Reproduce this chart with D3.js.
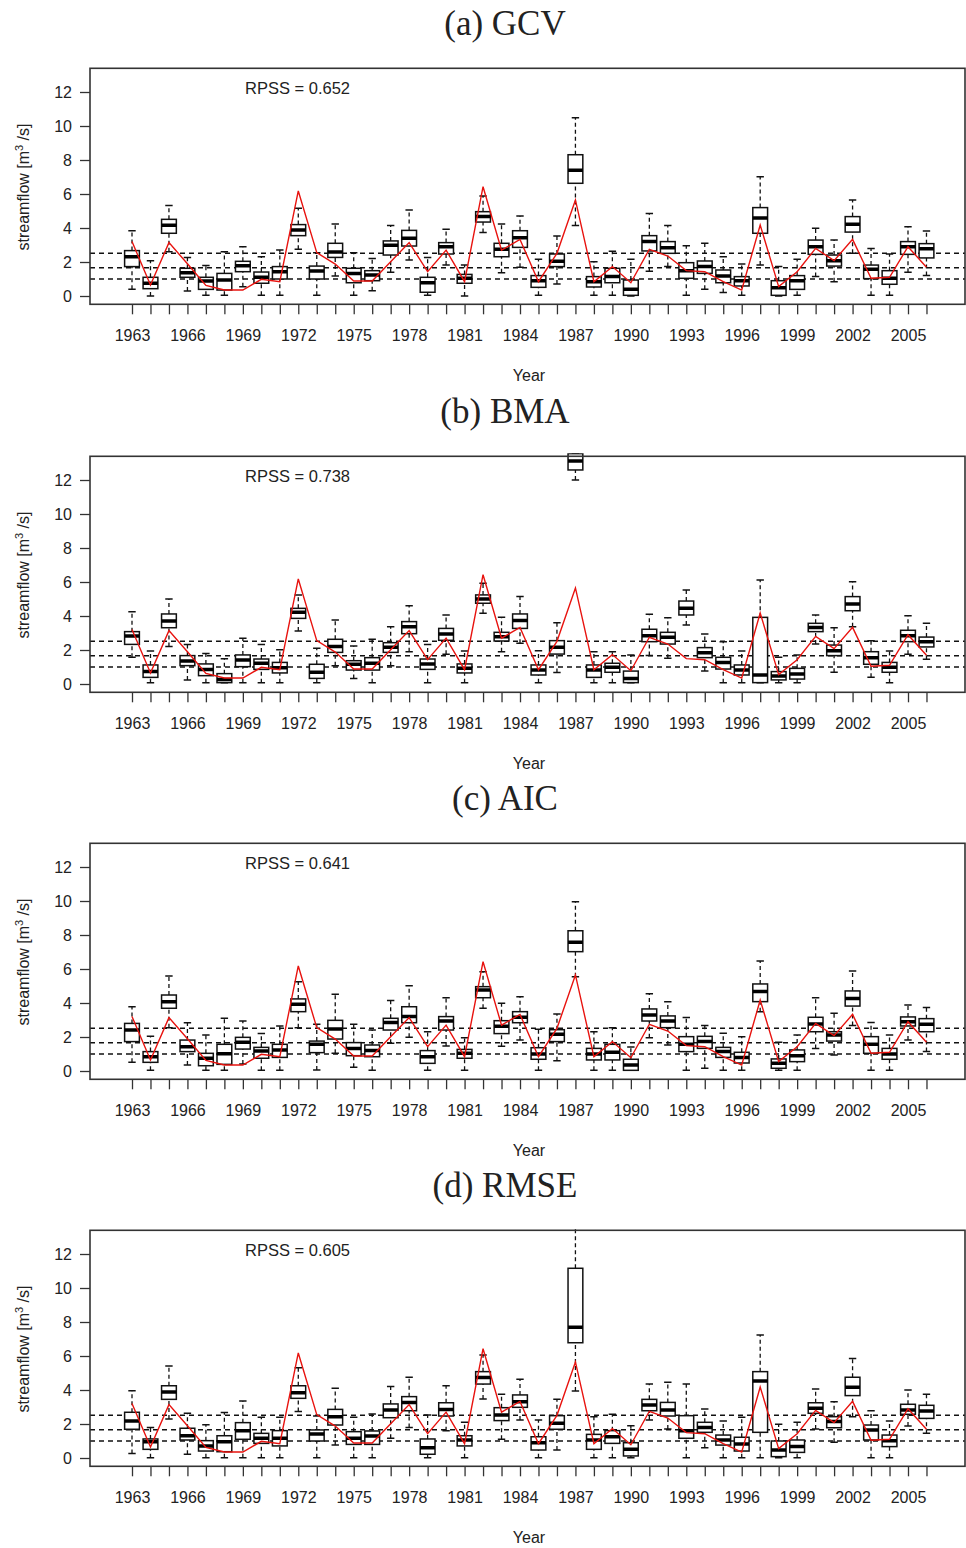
<!DOCTYPE html>
<html>
<head>
<meta charset="utf-8">
<script src="https://cdn.jsdelivr.net/npm/d3@7"></script>
<style>
  body { margin: 0; background: #fff; }
  svg { display: block; }
</style>
</head>
<body>
<div id="chart"></div>
<script>
// years on the x axis, one box per year
const years = [1963,1964,1965,1966,1967,1968,1969,1970,1971,1972,1973,1974,1975,1976,1977,1978,1979,1980,1981,1982,1983,1984,
  1985,1986,1987,1988,1989,1990,1991,1992,1993,1994,1995,1996,1997,1998,1999,2000,2001,2002,2003,2004,2005,2006];
const yearLabels = [1963,1966,1969,1972,1975,1978,1981,1984,1987,1990,1993,1996,1999,2002,2005];
const yTicks = [0,2,4,6,8,10,12];

// observed streamflow (red line), same in every panel
const observed = [3.2,0.65,3.14,1.9,0.62,0.35,0.35,0.98,0.84,6.18,2.55,1.88,0.88,0.88,2.02,3.14,1.43,2.7,0.84,6.43,2.7,3.33,
  0.84,2.51,5.65,0.84,1.73,0.78,2.75,2.35,1.49,1.43,0.84,0.35,4.18,0.55,1.43,2.8,2.08,3.33,1.04,1.1,2.9,1.69];

// tercile lines
const terciles = [1.0, 1.66, 2.51];

// boxes: [lower whisker, q1, median, q3, upper whisker]
const gcvBoxes = [
  [0.39,1.73,2.31,2.67,3.84],[0,0.43,0.75,1.10,2.08],[2.6,3.69,4.16,4.51,5.33],[0.29,1.10,1.37,1.63,2.27],
  [0.04,0.39,0.88,1.10,1.80],[0.04,0.35,0.94,1.33,2.61],[0.55,1.43,1.78,2.04,2.90],[0.04,0.75,1.10,1.41,2.31],
  [0.04,1.00,1.43,1.73,2.71],[2.75,3.55,3.88,4.20,5.16],[0.04,1.00,1.47,1.76,2.55],[1.18,2.27,2.59,3.10,4.24],
  [0.04,0.78,1.33,1.63,2.55],[0.31,0.90,1.24,1.49,2.20],[1.39,2.41,2.98,3.24,4.14],[2.12,2.94,3.39,3.86,5.06],
  [0.04,0.22,0.78,1.10,2.27],[1.82,2.47,2.90,3.14,3.92],[0,0.75,1.04,1.27,1.82],[3.73,4.35,4.67,4.96,5.88],
  [1.37,2.31,2.75,3.10,4.24],[1.69,2.86,3.43,3.84,4.71],[0.04,0.51,0.90,1.20,2.16],[0.71,1.73,2.04,2.47,3.53],
  [4.14,6.63,7.39,8.31,10.49],[0.04,0.53,0.84,1.14,2.02],[0.04,0.78,1.14,1.63,2.63],[0,0.04,0.39,0.94,2.16],
  [1.45,2.65,3.20,3.55,4.86],[1.73,2.51,2.84,3.20,4.14],[0.04,1.04,1.49,1.96,2.96],[0.39,1.33,1.73,2.06,3.10],
  [0.20,0.78,1.18,1.53,2.31],[0.04,0.59,0.90,1.14,1.88],[1.82,3.69,4.59,5.20,7.02],[0,0.04,0.49,0.90,1.73],
  [0.04,0.39,0.90,1.20,2.16],[1.14,2.45,2.90,3.29,3.98],[0.84,1.76,2.08,2.41,3.29],[2.51,3.76,4.22,4.67,5.65],
  [0.04,1.02,1.57,1.82,2.80],[0.04,0.69,1.04,1.49,2.47],[1.39,2.45,2.90,3.20,4.08],[1.20,2.24,2.78,3.08,3.82]
];
const bmaBoxes = [
  [1.57,2.33,2.82,3.08,4.25],[0.08,0.39,0.73,1.12,1.94],[2.20,3.31,3.71,4.12,5.0],[0.24,1.08,1.35,1.67,2.33],
  [0.08,0.49,0.86,1.18,1.80],[0.08,0.08,0.27,0.61,1.49],[0.08,1.02,1.41,1.71,2.69],[0.08,0.86,1.22,1.47,2.33],
  [0.08,0.65,0.96,1.27,2.02],[3.12,3.86,4.22,4.45,5.24],[0.08,0.33,0.69,1.16,2.10],[1.08,1.86,2.20,2.63,3.76],
  [0.33,0.82,1.16,1.37,2.24],[0.08,0.82,1.22,1.55,2.63],[1.08,1.86,2.16,2.43,3.37],[1.90,2.96,3.37,3.67,4.61],
  [0.08,0.86,1.18,1.47,2.33],[1.75,2.57,2.94,3.27,4.06],[0.08,0.65,0.92,1.18,1.94],[4.16,4.75,5.0,5.24,5.92],
  [1.90,2.53,2.78,3.04,3.92],[2.39,3.27,3.73,4.12,5.14],[0.08,0.53,0.82,1.12,1.96],[0.67,1.76,2.16,2.55,3.61],
  [12.0,12.59,13.12,13.55,13.55],[0.08,0.39,0.82,1.12,1.90],[0.08,0.69,0.98,1.22,1.90],[0.08,0.08,0.33,0.76,1.71],
  [1.67,2.49,2.84,3.22,4.10],[1.51,2.35,2.75,3.04,3.90],[3.47,4.06,4.45,4.88,5.53],[0.76,1.55,1.84,2.14,2.94],
  [0.08,0.88,1.27,1.57,2.49],[0.08,0.53,0.82,1.12,1.94],[0.08,0.08,0.53,3.92,6.12],[0.08,0.24,0.47,0.73,1.57],
  [0.08,0.29,0.59,0.92,1.71],[2.35,3.08,3.33,3.57,4.06],[0.69,1.67,1.96,2.29,3.31],[3.37,4.31,4.71,5.14,6.02],
  [0.39,1.16,1.55,1.90,2.55],[0.08,0.69,0.98,1.27,1.94],[1.75,2.49,2.84,3.16,4.02],[1.45,2.18,2.49,2.76,3.57]
];
const aicBoxes = [
  [0.51,1.73,2.41,2.80,3.78],[0.04,0.51,0.84,1.14,2.04],[2.55,3.69,4.08,4.47,5.59],[0.35,1.14,1.43,1.82,2.84],
  [0.04,0.31,0.75,1.04,2.12],[0.04,0.39,1.02,1.57,3.10],[0.41,1.29,1.69,1.98,2.94],[0.04,0.75,1.18,1.39,2.20],
  [0.04,0.80,1.24,1.57,2.65],[2.55,3.49,3.92,4.24,5.25],[0.06,1.08,1.57,1.76,2.75],[1.04,1.88,2.47,2.98,4.51],
  [0.22,0.90,1.33,1.67,2.75],[0.04,0.84,1.20,1.53,2.41],[1.63,2.41,2.86,3.10,4.14],[1.98,2.84,3.20,3.78,5.02],
  [0.04,0.45,0.84,1.20,2.31],[1.47,2.41,2.94,3.20,4.31],[0.04,0.75,1.04,1.27,1.96],[3.69,4.31,4.76,4.96,5.84],
  [1.45,2.20,2.63,2.96,3.98],[1.82,2.84,3.16,3.49,4.37],[0.04,0.69,1.00,1.37,2.45],[0.61,1.73,2.16,2.43,3.35],
  [5.55,7.02,7.57,8.25,9.96],[0.04,0.65,1.00,1.33,2.31],[0.04,0.65,1.10,1.57,2.55],[0.04,0.04,0.35,0.69,1.41],
  [1.96,2.94,3.29,3.65,4.55],[1.53,2.55,2.94,3.24,4.08],[0.04,1.14,1.57,2.02,3.14],[0.16,1.33,1.73,2.04,2.67],
  [0.04,0.80,1.14,1.39,2.22],[0.04,0.47,0.80,1.10,2.02],[3.49,4.08,4.67,5.12,6.47],[0.04,0.16,0.45,0.71,1.69],
  [0.04,0.55,0.90,1.24,2.12],[1.33,2.31,2.76,3.16,4.31],[0.94,1.76,2.12,2.31,3.39],[2.67,3.82,4.27,4.71,5.88],
  [0.04,1.04,1.57,2.02,2.86],[0.04,0.69,1.00,1.33,2.12],[1.82,2.65,2.90,3.18,3.88],[1.14,2.31,2.75,3.08,3.73]
];
const rmseBoxes = [
  [0.27,1.69,2.18,2.69,3.96],[0.02,0.51,0.96,1.12,1.80],[2.29,3.45,3.88,4.25,5.41],[0.22,1.06,1.31,1.75,2.63],
  [0.02,0.41,0.71,1.02,1.96],[0.02,0.37,0.96,1.31,2.67],[0.02,1.10,1.61,2.08,3.35],[0.02,0.86,1.16,1.45,2.39],
  [0.02,0.71,1.16,1.61,2.39],[2.73,3.51,3.84,4.25,5.31],[0.02,1.00,1.41,1.65,2.47],[0.76,1.94,2.43,2.86,4.10],
  [0.02,0.80,1.16,1.55,2.39],[0.02,0.80,1.29,1.59,2.59],[1.16,2.37,2.82,3.18,4.20],[1.80,2.78,3.27,3.61,4.75],
  [0.02,0.22,0.61,1.12,2.53],[1.61,2.47,2.86,3.25,4.25],[0.02,0.71,1.06,1.31,2.10],[3.47,4.35,4.73,5.08,6.06],
  [1.10,2.20,2.53,2.96,3.75],[2.24,2.98,3.31,3.71,4.63],[0.02,0.47,0.90,1.25,2.24],[0.47,1.69,2.04,2.49,3.45],
  [3.94,6.78,7.69,11.16,14.0],[0.02,0.51,1.06,1.39,2.43],[0.02,0.86,1.25,1.61,2.57],[0.02,0.12,0.51,0.90,1.90],
  [2.24,2.78,3.12,3.45,4.35],[1.71,2.47,2.82,3.27,4.45],[0.02,1.16,1.61,2.49,4.35],[0.61,1.51,1.80,2.10,2.88],
  [0.02,0.76,1.06,1.35,2.18],[0.02,0.41,0.82,1.22,2.39],[0.02,1.51,4.53,5.08,7.24],[0.02,0.08,0.47,1.00,1.98],
  [0.02,0.33,0.67,1.06,2.10],[1.71,2.63,2.92,3.25,4.06],[0.92,1.78,2.14,2.43,3.31],[2.43,3.67,4.16,4.75,5.86],
  [0.02,1.06,1.65,1.94,2.78],[0.02,0.67,1.02,1.35,2.18],[1.88,2.57,2.82,3.16,4.0],[1.45,2.33,2.76,3.10,3.75]
];

const panels = [
  { title: "(a) GCV",  rpss: "RPSS = 0.652", boxes: gcvBoxes,  top: 0 },
  { title: "(b) BMA",  rpss: "RPSS = 0.738", boxes: bmaBoxes,  top: 388 },
  { title: "(c) AIC",  rpss: "RPSS = 0.641", boxes: aicBoxes,  top: 775 },
  { title: "(d) RMSE", rpss: "RPSS = 0.605", boxes: rmseBoxes, top: 1162 }
];

const W = 966, H = 1548;
const plot = { left: 90, right: 965, top: 68.3, bottom: 304.3 };
const font = "'Liberation Sans', Arial, sans-serif";

// one year = 18.476px, 1963 sits at x=132
const step = (908 - 132) / 42;
const x = d3.scaleLinear()
  .domain([1963 - (132 - plot.left) / step, 1963 + (plot.right - 132) / step])
  .range([plot.left, plot.right]);
const y = d3.scaleLinear()
  .domain([-(plot.bottom - 296) / 17, (296 - plot.top) / 17])
  .range([plot.bottom, plot.top]);
const boxW = step * 0.8;

const svg = d3.select("#chart").append("svg")
  .attr("width", W).attr("height", H)
  .style("font-family", font);

svg.append("defs").append("clipPath").attr("id", "plotclip")
  .append("rect")
  .attr("x", plot.left).attr("y", plot.top - 3)
  .attr("width", plot.right - plot.left).attr("height", plot.bottom - plot.top + 3);

panels.forEach(p => {
  const g = svg.append("g").attr("transform", `translate(0,${p.top})`);

  // panel title
  g.append("text")
    .attr("x", 505).attr("y", 35)
    .attr("text-anchor", "middle")
    .style("font-family", "'Liberation Serif', 'DejaVu Serif', serif")
    .style("font-size", "35px")
    .attr("fill", "#222")
    .text(p.title);

  const inner = g.append("g").attr("clip-path", "url(#plotclip)");

  // tercile reference lines
  inner.selectAll(".terc").data(terciles).enter().append("line")
    .attr("x1", plot.left).attr("x2", plot.right)
    .attr("y1", d => y(d)).attr("y2", d => y(d))
    .attr("stroke", "#111").attr("stroke-width", 1.5)
    .attr("stroke-dasharray", "5,4");

  const bx = inner.selectAll(".bx").data(p.boxes).enter().append("g");

  // whiskers
  bx.append("line")
    .attr("x1", (d, i) => x(years[i])).attr("x2", (d, i) => x(years[i]))
    .attr("y1", d => y(d[0])).attr("y2", d => y(d[1]))
    .attr("stroke", "#111").attr("stroke-width", 1.3).attr("stroke-dasharray", "4,3");
  bx.append("line")
    .attr("x1", (d, i) => x(years[i])).attr("x2", (d, i) => x(years[i]))
    .attr("y1", d => y(d[3])).attr("y2", d => y(d[4]))
    .attr("stroke", "#111").attr("stroke-width", 1.3).attr("stroke-dasharray", "4,3");
  // staples
  [0, 4].forEach(k => {
    bx.append("line")
      .attr("x1", (d, i) => x(years[i]) - boxW / 4).attr("x2", (d, i) => x(years[i]) + boxW / 4)
      .attr("y1", d => y(d[k])).attr("y2", d => y(d[k]))
      .attr("stroke", "#111").attr("stroke-width", 1.5);
  });
  // boxes
  bx.append("rect")
    .attr("x", (d, i) => x(years[i]) - boxW / 2)
    .attr("width", boxW)
    .attr("y", d => y(d[3]))
    .attr("height", d => y(d[1]) - y(d[3]))
    .attr("fill", "#fff")
    .attr("stroke", "#111").attr("stroke-width", 1.5);
  // medians
  bx.append("line")
    .attr("x1", (d, i) => x(years[i]) - boxW / 2).attr("x2", (d, i) => x(years[i]) + boxW / 2)
    .attr("y1", d => y(d[2])).attr("y2", d => y(d[2]))
    .attr("stroke", "#000").attr("stroke-width", 3.5);

  // observed line
  inner.append("path")
    .datum(observed)
    .attr("fill", "none")
    .attr("stroke", "#e8130f")
    .attr("stroke-width", 1.4)
    .attr("d", d3.line().x((d, i) => x(years[i])).y(d => y(d)));

  // plot frame
  g.append("rect")
    .attr("x", plot.left).attr("y", plot.top)
    .attr("width", plot.right - plot.left).attr("height", plot.bottom - plot.top)
    .attr("fill", "none").attr("stroke", "#333").attr("stroke-width", 1.6);

  // axes
  const yAxis = g.append("g")
    .attr("transform", `translate(${plot.left},0)`)
    .call(d3.axisLeft(y).tickValues(yTicks).tickSize(10).tickPadding(8));
  const xAxis = g.append("g")
    .attr("transform", `translate(0,${plot.bottom})`)
    .call(d3.axisBottom(x).tickValues(years).tickSize(10).tickPadding(15)
      .tickFormat(d => yearLabels.includes(d) ? d : ""));
  [yAxis, xAxis].forEach(a => {
    a.select(".domain").remove();
    a.selectAll("line").attr("stroke", "#333").attr("stroke-width", 1.3);
    a.selectAll("text").style("font-family", font).style("font-size", "16px").attr("fill", "#222");
  });

  // axis titles
  g.append("text")
    .attr("x", 529).attr("y", 381)
    .attr("text-anchor", "middle")
    .style("font-size", "16px").attr("fill", "#222")
    .text("Year");

  const yl = g.append("text")
    .attr("transform", "translate(29,187) rotate(-90)")
    .attr("text-anchor", "middle")
    .style("font-size", "16px").attr("fill", "#222");
  yl.append("tspan").text("streamflow [m");
  yl.append("tspan").attr("dy", -6).style("font-size", "11px").text("3");
  yl.append("tspan").attr("dy", 6).text(" /s]");

  // skill score
  g.append("text")
    .attr("x", 245).attr("y", 94)
    .style("font-size", "16.5px").attr("fill", "#222")
    .text(p.rpss);
});
</script>
</body>
</html>
